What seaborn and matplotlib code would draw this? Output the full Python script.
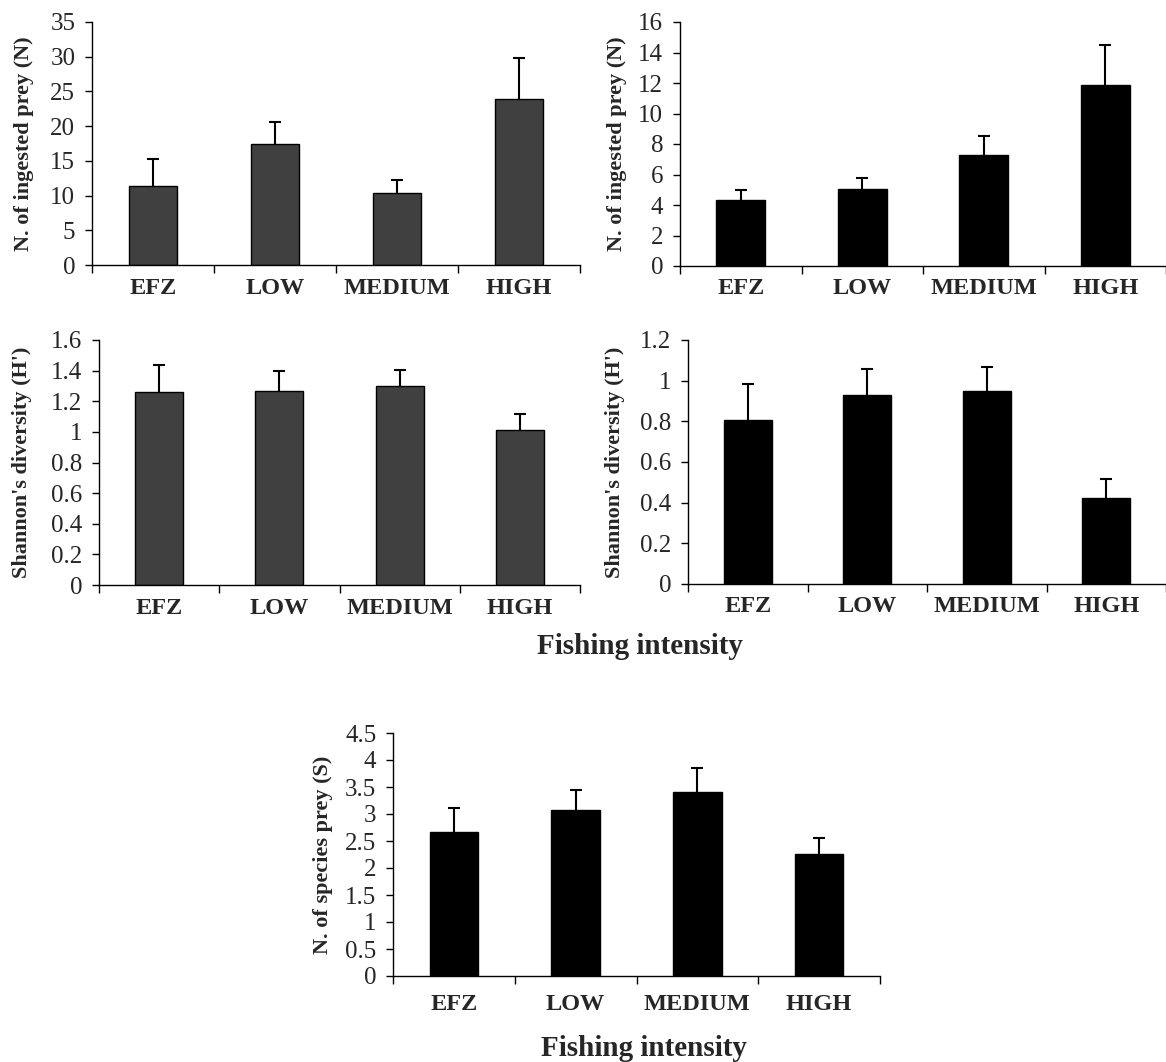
import numpy as np
import pandas as pd
import matplotlib
matplotlib.use("Agg")
import matplotlib.pyplot as plt
import seaborn as sns
from matplotlib.ticker import FixedLocator

# ---------------- data ----------------
categories = ["EFZ", "LOW", "MEDIUM", "HIGH"]

prey_n_a_mean = [11.4, 17.4, 10.35, 23.9]
prey_n_a_err = [3.8, 3.2, 1.85, 5.9]

prey_n_b_mean = [4.35, 5.05, 7.26, 11.9]
prey_n_b_err = [0.61, 0.72, 1.24, 2.6]

shannon_a_mean = [1.26, 1.27, 1.297, 1.01]
shannon_a_err = [0.177, 0.127, 0.11, 0.104]

shannon_b_mean = [0.809, 0.929, 0.95, 0.4225]
shannon_b_err = [0.177, 0.126, 0.117, 0.094]

species_mean = [2.663, 3.083, 3.415, 2.263]
species_err = [0.45, 0.369, 0.444, 0.289]

yticks_prey_a = [0, 5, 10, 15, 20, 25, 30, 35]
yticks_prey_b = [0, 2, 4, 6, 8, 10, 12, 14, 16]
yticks_shannon_a = [0, 0.2, 0.4, 0.6, 0.8, 1.0, 1.2, 1.4, 1.6]
yticks_shannon_b = [0, 0.2, 0.4, 0.6, 0.8, 1.0, 1.2]
yticks_species = [0, 0.5, 1, 1.5, 2, 2.5, 3, 3.5, 4, 4.5]

ylabel_prey = "N. of ingested prey (N)"
ylabel_shannon = "Shannon's diversity (H')"
ylabel_species = "N. of species prey (S)"
xlabel_text = "Fishing intensity"

# ---------------- style ----------------
sns.set_style("ticks")
plt.rcParams["font.family"] = ["Liberation Serif", "DejaVu Serif"]
plt.rcParams["axes.linewidth"] = 1.0

W, H = 1166, 1062
fig = plt.figure(figsize=(W / 100, H / 100), dpi=100)


def make_axes(left, right, top, bottom):
    return fig.add_axes([left / W, 1 - bottom / H, (right - left) / W, (bottom - top) / H])


def draw_panel(ax, means, errs, yticks, ylabel, color, label_offset_px, width_px, xpad=9):
    df = pd.DataFrame({"cat": categories, "val": means})
    sns.barplot(data=df, x="cat", y="val", order=categories, color=color,
                saturation=1, width=0.4, edgecolor="black", linewidth=1.0,
                errorbar=None, ax=ax, zorder=2)
    eb = ax.errorbar(np.arange(len(categories)), means,
                     yerr=[np.zeros(len(errs)), errs], fmt="none",
                     ecolor="black", elinewidth=1.5, capsize=4.5, capthick=1.5, zorder=1)
    caplines = eb.lines[1]
    if len(caplines) == 2:
        caplines[0].set_visible(False)
    ax.set_xlim(-0.5, len(categories) - 0.5)
    ax.set_ylim(yticks[0], yticks[-1])
    ax.yaxis.set_major_locator(FixedLocator(yticks))
    ax.set_yticklabels([f"{v:g}" for v in yticks], fontsize=18)
    ax.set_xticks(range(len(categories)))
    ax.set_xticklabels(categories, fontsize=17.5, fontweight="bold")
    ax.set_xticks(np.arange(-0.5, len(categories)), minor=True)
    ax.tick_params(axis="x", which="major", length=0, pad=xpad)
    ax.tick_params(axis="x", which="minor", length=6, width=1.0, direction="out", color="black")
    ax.tick_params(axis="y", which="major", length=5, width=1.0, direction="out", pad=7, color="black")
    ax.set_xlabel("")
    ax.set_ylabel(ylabel, fontsize=16, fontweight="bold")
    ax.yaxis.label.set_va("center")
    ax.yaxis.set_label_coords(-label_offset_px / width_px, 0.5)
    sns.despine(ax=ax)
    for s in ("left", "bottom"):
        ax.spines[s].set_color("black")
        ax.spines[s].set_linewidth(1.0)
    ax.spines["bottom"].set_clip_on(False)
    ax.set_facecolor("white")


gray = "#404040"
black = "#000000"

ax1 = make_axes(92, 580, 22, 265)
draw_panel(ax1, prey_n_a_mean, prey_n_a_err, yticks_prey_a, ylabel_prey, gray, 68, 580 - 92)

ax2 = make_axes(680, 1166, 22, 266)
draw_panel(ax2, prey_n_b_mean, prey_n_b_err, yticks_prey_b, ylabel_prey, black, 63, 1166 - 680)

ax3 = make_axes(99, 580, 340, 585)
draw_panel(ax3, shannon_a_mean, shannon_a_err, yticks_shannon_a, ylabel_shannon, gray, 77, 580 - 99)

ax4 = make_axes(688, 1166, 340, 584)
draw_panel(ax4, shannon_b_mean, shannon_b_err, yticks_shannon_b, ylabel_shannon, black, 73, 1166 - 688)

ax5 = make_axes(393, 880, 733, 976)
draw_panel(ax5, species_mean, species_err, yticks_species, ylabel_species, black, 70, 880 - 393, xpad=13)

fig.text(640 / W, 1 - 647 / H, xlabel_text, ha="center", va="center",
         fontsize=21, fontweight="bold")
fig.text(644 / W, 1 - 1048 / H, xlabel_text, ha="center", va="center",
         fontsize=21, fontweight="bold")

fig.savefig("out.png", dpi=100, facecolor="white")
